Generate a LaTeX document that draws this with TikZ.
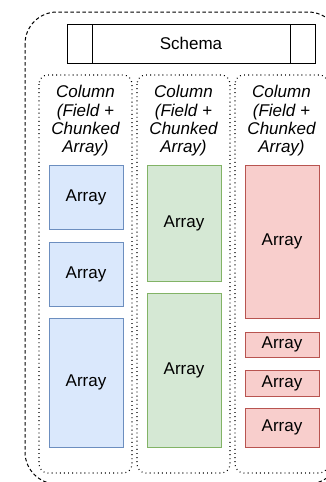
\documentclass[tikz,border=0pt]{standalone}
\usepackage{fontspec}
\setmainfont{Liberation Sans}
\begin{document}
\begin{tikzpicture}[x=1pt,y=-1pt,
  outerframe/.style={draw=black,line width=1pt,dash pattern=on 3.5pt off 2.5pt,rounded corners=32pt},
  colframe/.style={draw=black,line width=1.1pt,dash pattern=on 0.9pt off 3.2pt,rounded corners=9pt},
  schemabox/.style={draw=black,fill=white,line width=1pt},
  blueArr/.style={draw=blueline,fill=bluefill,line width=1pt},
  greenArr/.style={draw=greenline,fill=greenfill,line width=1pt},
  redArr/.style={draw=redline,fill=redfill,line width=1pt},
  lbl/.style={font=\fontsize{17}{18.4}\selectfont,text=black,inner sep=0pt},
  collbl/.style={lbl,font=\fontsize{17}{18.4}\selectfont\itshape,align=center}
]
\definecolor{bluefill}{HTML}{DAE8FC}\definecolor{blueline}{HTML}{6C8EBF}
\definecolor{greenfill}{HTML}{D5E8D4}\definecolor{greenline}{HTML}{82B366}
\definecolor{redfill}{HTML}{F8CECC}\definecolor{redline}{HTML}{B85450}
\useasboundingbox (0,0) rectangle (325,482);

% table frame
\draw[outerframe] (25,12) rectangle (340,484);

% schema
\draw[schemabox] (67,24) rectangle (315,63);
\draw[line width=1pt] (92,24) -- (92,63) (290,24) -- (290,63);
\node[lbl] (schema) at (191,43.5) {Schema};

% columns
\draw[colframe] (39,75) rectangle (132,473);
\draw[colframe] (137,75) rectangle (230,473);
\draw[colframe] (235,75) rectangle (328,473);
\node[collbl] (c1) at (85.5,121) {Column\\(Field +\\Chunked\\Array)};
\node[collbl] (c2) at (183.5,121) {Column\\(Field +\\Chunked\\Array)};
\node[collbl] (c3) at (281.5,121) {Column\\(Field +\\Chunked\\Array)};

% chunks of column 1
\draw[blueArr] (49,165) rectangle (123,229);
\node[lbl] (b1) at (86,197) {Array};
\draw[blueArr] (49,242) rectangle (123,306);
\node[lbl] (b2) at (86,274) {Array};
\draw[blueArr] (49,318) rectangle (123,447);
\node[lbl] (b3) at (86,382.5) {Array};

% chunks of column 2
\draw[greenArr] (147,165) rectangle (221,281);
\node[lbl] (g1) at (184,223) {Array};
\draw[greenArr] (147,293) rectangle (221,447);
\node[lbl] (g2) at (184,370) {Array};

% chunks of column 3
\draw[redArr] (245,165) rectangle (319,318);
\node[lbl] (r1) at (282,241.5) {Array};
\draw[redArr] (245,332) rectangle (319,357);
\node[lbl] (r2) at (282,344.5) {Array};
\draw[redArr] (245,370) rectangle (319,396);
\node[lbl] (r3) at (282,383) {Array};
\draw[redArr] (245,408) rectangle (319,447);
\node[lbl] (r4) at (282,427.5) {Array};
\end{tikzpicture}
\end{document}
